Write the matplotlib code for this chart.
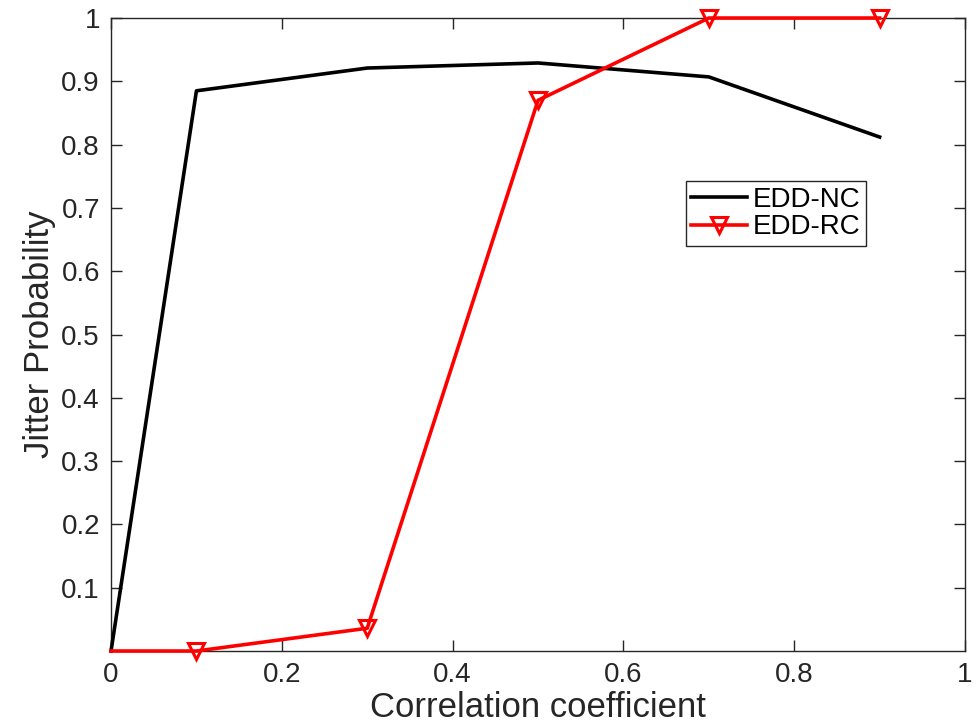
import numpy as np
import matplotlib
matplotlib.use("Agg")
import matplotlib.pyplot as plt

plt.rcParams['font.family'] = ['Liberation Sans', 'DejaVu Sans']

# data
corr = [0.0, 0.1, 0.3, 0.5, 0.7, 0.9]
edd_nc = [0.0, 0.885, 0.921, 0.929, 0.907, 0.812]
edd_rc = [0.0, 0.0, 0.036, 0.870, 1.0, 1.0]
xticks = [0, 0.2, 0.4, 0.6, 0.8, 1]
yticks = [0.1, 0.2, 0.3, 0.4, 0.5, 0.6, 0.7, 0.8, 0.9, 1]


def main():
    fig = plt.figure(figsize=(9.8, 7.24), dpi=100)
    ax = fig.add_axes([0.1133, 0.1008, 0.8714, 0.8743])

    ax.plot(corr, edd_nc, 'k-', linewidth=2.6, label='EDD-NC', clip_on=False, zorder=3)
    ax.plot(corr, edd_rc, 'r-', linewidth=2.6, marker='v', markersize=12,
            markerfacecolor='none', markeredgewidth=2.2, markevery=[1, 2, 3, 4, 5],
            label='EDD-RC', clip_on=False, zorder=4)

    ax.set_xlim(0, 1)
    ax.set_ylim(0, 1)
    ax.set_xticks(xticks)
    ax.set_xticklabels(['0', '0.2', '0.4', '0.6', '0.8', '1'])
    ax.set_yticks(yticks)
    ax.set_yticklabels(['0.1', '0.2', '0.3', '0.4', '0.5', '0.6', '0.7', '0.8', '0.9', '1'])
    ax.tick_params(direction='in', length=8, width=1, colors='#262626',
                   labelsize=20, top=True, right=True, pad=8)
    for s in ax.spines.values():
        s.set_color('#262626')
        s.set_linewidth(1)

    ax.set_xlabel('Correlation coefficient', fontsize=25, color='#262626', labelpad=2)
    ax.set_ylabel('Jitter Probability', fontsize=25, color='#262626', labelpad=4)

    leg = ax.legend(loc='upper left', bbox_to_anchor=(0.673, 0.742), fontsize=20,
                    handlelength=2.0, handletextpad=0.2, borderpad=0.2,
                    labelspacing=0.05, fancybox=False, framealpha=1,
                    edgecolor='#262626', borderaxespad=0)
    leg.get_frame().set_linewidth(1)

    fig.savefig('out.png', dpi=100)


if __name__ == "__main__":
    main()
